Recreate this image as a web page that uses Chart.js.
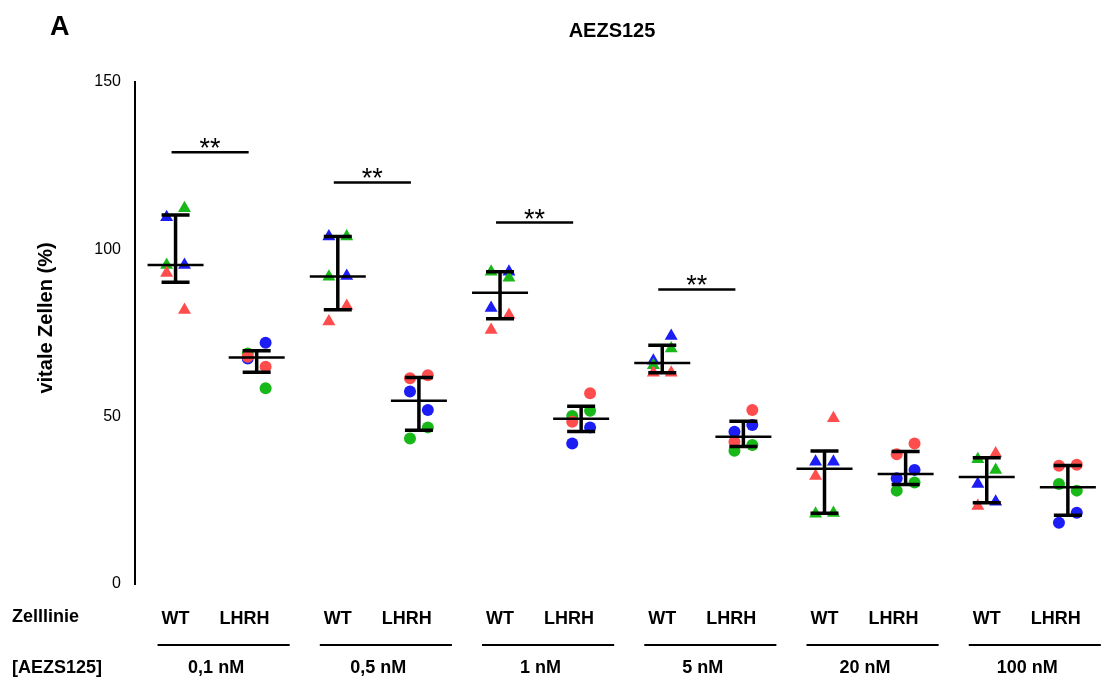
<!DOCTYPE html>
<html>
<head>
<meta charset="utf-8">
<script src="https://cdn.jsdelivr.net/npm/chart.js@4/dist/chart.umd.min.js"></script>
<style>
  html, body { margin: 0; padding: 0; background: #fff; }
  #wrap { width: 1105px; height: 687px; }
</style>
</head>
<body>
<div id="wrap"><canvas id="scatterChart"></canvas></div>
<script>
// cell line per column, and concentration per WT/LHRH pair
const categories = ['WT', 'LHRH', 'WT', 'LHRH', 'WT', 'LHRH', 'WT', 'LHRH', 'WT', 'LHRH', 'WT', 'LHRH'];
const groups = ['0,1 nM', '0,5 nM', '1 nM', '5 nM', '20 nM', '100 nM'];

// viable cells (%), two replicates per colour (A = left, B = right)
const redA   = [92.9, 67.9, 78.4, 61.5, 75.9, 48.5, 63.1, 42.5, 32.3, 38.8, 23.3, 35.3];
const redB   = [81.9, 64.9, 83.1, 62.4, 80.4, 57.0, 63.1, 52.0, 49.5, 42.0, 39.0, 35.6];
const greenA = [95.3, 68.9, 91.8, 43.5, 93.3, 50.2, 65.4, 39.8, 21.0, 27.9, 37.3, 29.9];
const greenB = [112.3, 58.5, 103.8, 46.8, 91.5, 51.8, 70.4, 41.5, 21.2, 30.3, 34.1, 27.9];
const blueA  = [109.6, 67.4, 103.8, 57.5, 82.5, 42.0, 66.7, 45.5, 36.5, 31.6, 29.9, 18.3];
const blueB  = [95.3, 72.1, 92.0, 52.0, 93.3, 46.8, 74.1, 47.5, 36.5, 34.1, 24.6, 21.3];

// significance bars (**), one per concentration, height in %
const sigLevels = [129, 120, 108, 88];
const yTicks = [0, 50, 100, 150];

const RED = '#ff4c4c', GREEN = '#19b819', BLUE = '#1c1cf5';
const FONT = "'Liberation Sans', Arial, sans-serif";

function pts(arr, side) {
  return arr.map((v, i) => ({ x: i + side * 0.11, y: v }));
}

function ds(arr, side, color) {
  return {
    data: pts(arr, side),
    backgroundColor: color,
    borderColor: color,
    borderWidth: 0,
    pointStyle: ctx => (ctx.dataIndex % 2 === 0 ? 'triangle' : 'circle'),
    pointRadius: ctx => (ctx.dataIndex % 2 === 0 ? 7.5 : 6),
    pointHoverRadius: 6
  };
}

// Prism style percentiles (n+1 method)
function pct(sorted, p) {
  const pos = p * (sorted.length + 1) - 1;
  const lo = Math.max(0, Math.min(sorted.length - 1, Math.floor(pos)));
  const hi = Math.min(sorted.length - 1, lo + 1);
  return sorted[lo] + (pos - lo) * (sorted[hi] - sorted[lo]);
}

const decorations = {
  id: 'decorations',
  afterDatasetsDraw(chart) {
    const { ctx, scales: { x, y } } = chart;
    ctx.save();
    ctx.strokeStyle = '#000';
    ctx.lineCap = 'butt';
    // median with interquartile range
    categories.forEach((c, i) => {
      const vals = [redA[i], redB[i], greenA[i], greenB[i], blueA[i], blueB[i]].sort((a, b) => a - b);
      const med = pct(vals, 0.5), q1 = pct(vals, 0.25), q3 = pct(vals, 0.75);
      const cx = x.getPixelForValue(i);
      ctx.lineWidth = 3.5;
      ctx.beginPath();
      ctx.moveTo(cx, y.getPixelForValue(q1));
      ctx.lineTo(cx, y.getPixelForValue(q3));
      ctx.stroke();
      ctx.beginPath();
      ctx.moveTo(cx - 14, y.getPixelForValue(q1)); ctx.lineTo(cx + 14, y.getPixelForValue(q1));
      ctx.moveTo(cx - 14, y.getPixelForValue(q3)); ctx.lineTo(cx + 14, y.getPixelForValue(q3));
      ctx.stroke();
      ctx.lineWidth = 2.5;
      ctx.beginPath();
      ctx.moveTo(cx - 28, y.getPixelForValue(med)); ctx.lineTo(cx + 28, y.getPixelForValue(med));
      ctx.stroke();
    });
    ctx.restore();
  },
  afterDraw(chart) {
    const { ctx, scales: { x, y } } = chart;
    ctx.save();
    ctx.fillStyle = '#000';
    ctx.strokeStyle = '#000';
    // significance bars
    sigLevels.forEach((lvl, g) => {
      const py = y.getPixelForValue(lvl);
      const x0 = x.getPixelForValue(2 * g) - 4, x1 = x.getPixelForValue(2 * g + 1) - 8;
      ctx.lineWidth = 2.5;
      ctx.beginPath(); ctx.moveTo(x0, py); ctx.lineTo(x1, py); ctx.stroke();
      ctx.font = '27px ' + FONT;
      ctx.textAlign = 'center';
      ctx.textBaseline = 'alphabetic';
      ctx.fillText('**', (x0 + x1) / 2, py + 5);
    });
    // concentration row
    ctx.font = 'bold 18px ' + FONT;
    ctx.textAlign = 'center';
    ctx.textBaseline = 'middle';
    groups.forEach((g, k) => {
      const a = x.getPixelForValue(2 * k), b = x.getPixelForValue(2 * k + 1);
      ctx.lineWidth = 2;
      ctx.beginPath(); ctx.moveTo(a - 18, 645); ctx.lineTo(b + 33, 645); ctx.stroke();
      ctx.fillText(g, (a + b) / 2, 668);
    });
    ctx.textAlign = 'left';
    ctx.fillText('Zelllinie', 12, 617);
    ctx.fillText('[AEZS125]', 12, 668);
    // y axis title
    ctx.save();
    ctx.translate(46, 318);
    ctx.rotate(-Math.PI / 2);
    ctx.textAlign = 'center';
    ctx.font = 'bold 20px ' + FONT;
    ctx.fillText('vitale Zellen (%)', 0, 0);
    ctx.restore();
    // panel letter and title
    ctx.font = 'bold 27px ' + FONT;
    ctx.fillText('A', 50, 28);
    ctx.font = 'bold 20px ' + FONT;
    ctx.textAlign = 'center';
    ctx.fillText('AEZS125', 612, 31);
    ctx.restore();
  }
};

new Chart(document.getElementById('scatterChart'), {
  type: 'scatter',
  data: {
    datasets: [
      ds(redA, -1, RED), ds(redB, 1, RED),
      ds(greenA, -1, GREEN), ds(greenB, 1, GREEN),
      ds(blueA, -1, BLUE), ds(blueB, 1, BLUE)
    ]
  },
  options: {
    responsive: true,
    maintainAspectRatio: false,
    animation: false,
    layout: { padding: { top: 82, right: 5, left: 0, bottom: 0 } },
    plugins: { legend: { display: false }, tooltip: { enabled: false } },
    scales: {
      x: {
        type: 'linear',
        min: -0.5,
        max: 11.34,
        // labels sit a little left of the LHRH columns, as in the figure
        afterBuildTicks: s => { s.ticks = categories.map((c, i) => ({ value: i + (i % 2 ? -0.15 : 0.0) })); },
        afterFit: s => { s.height = 103; },
        grid: { display: false, drawTicks: false },
        border: { display: false },
        ticks: {
          autoSkip: false,
          maxRotation: 0,
          padding: 24,
          color: '#000',
          font: { family: FONT, size: 18, weight: 'bold' },
          callback: v => categories[Math.round(v)]
        }
      },
      y: {
        min: 0,
        max: 150,
        afterBuildTicks: s => { s.ticks = yTicks.map(v => ({ value: v })); },
        afterFit: s => { s.width = 135; },
        grid: { display: false, drawTicks: true, tickLength: 8, tickWidth: 2, tickColor: '#000' },
        border: { display: true, color: '#000', width: 2 },
        ticks: { color: '#000', padding: 6, font: { family: FONT, size: 16 } }
      }
    }
  },
  plugins: [decorations]
});
</script>
</body>
</html>
